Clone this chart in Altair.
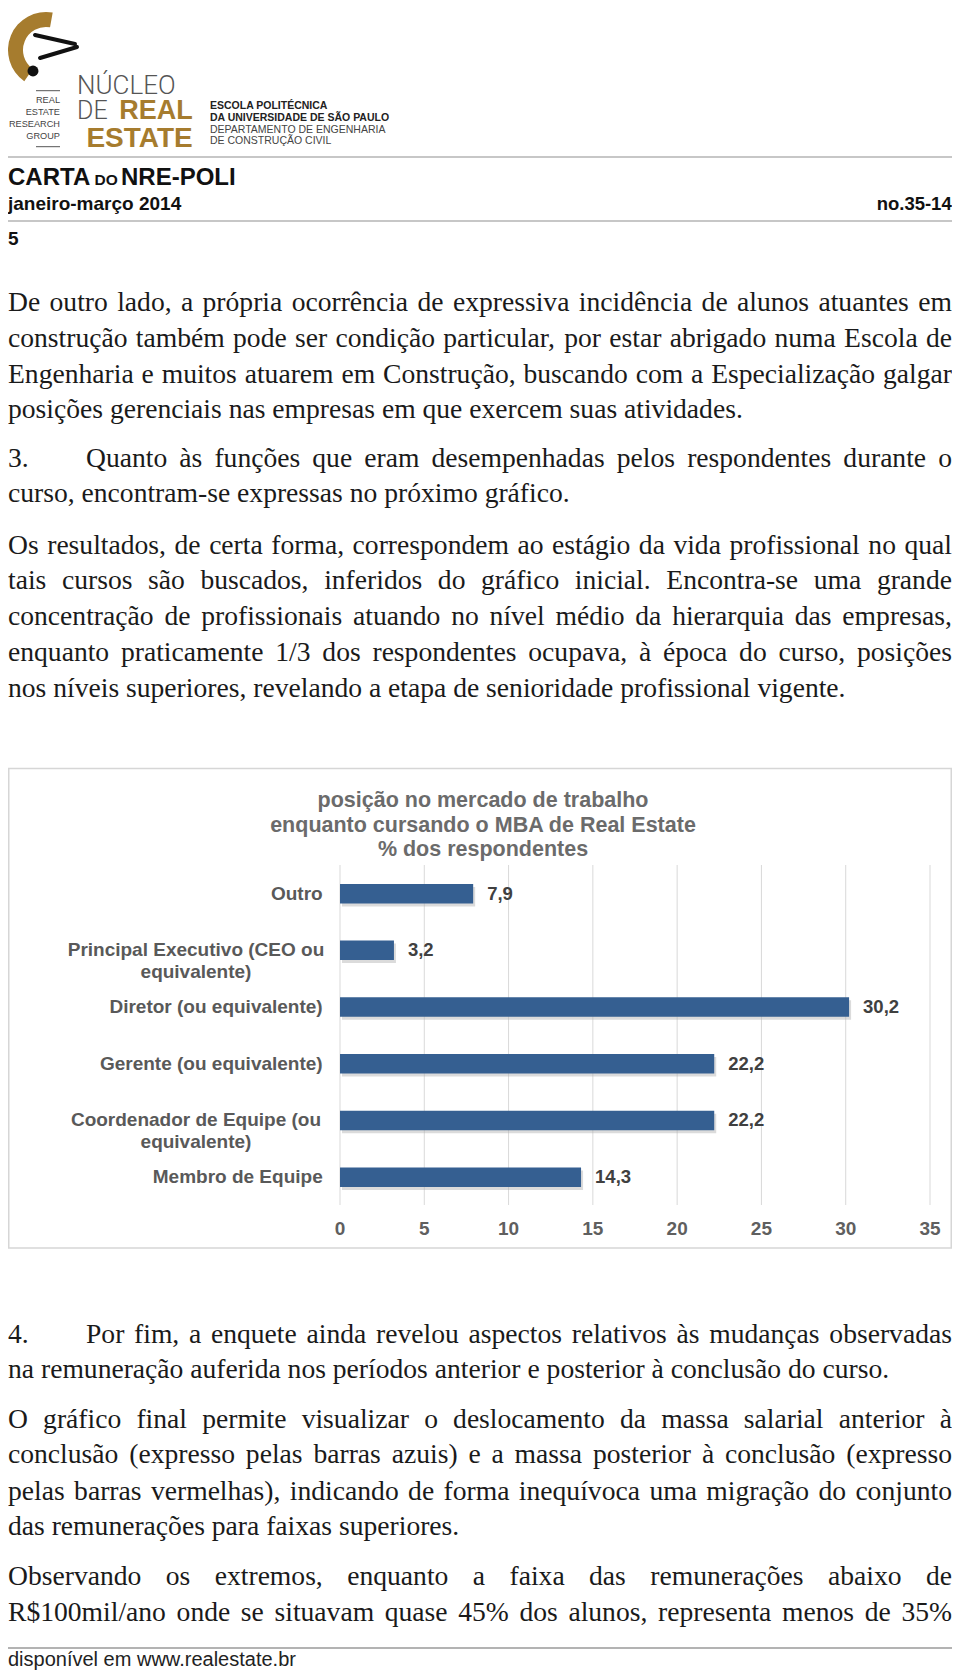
import unicodedata
import altair as alt
import pandas as pd

# ---------------- chart data ----------------
categories = [
    "Outro",
    "Principal Executivo (CEO ou equivalente)",
    "Diretor (ou equivalente)",
    "Gerente (ou equivalente)",
    "Coordenador de Equipe (ou equivalente)",
    "Membro de Equipe",
]
values = [7.9, 3.2, 30.2, 22.2, 22.2, 14.3]
x_ticks = [0, 5, 10, 15, 20, 25, 30, 35]
chart_title = [
    "posição no mercado de trabalho",
    "enquanto cursando o MBA de Real Estate",
    "% dos respondentes",
]

# ---------------- page text ----------------
header_title = ["CARTA", "DO", "NRE-POLI"]
header_date = "janeiro-março 2014"
header_issue = "no.35-14"
page_number = "5"
logo_group = ["REAL", "ESTATE", "RESEARCH", "GROUP"]
logo_words = ["NÚCLEO", "DE", "REAL", "ESTATE"]
school_lines = ["ESCOLA POLITÉCNICA", "DA UNIVERSIDADE DE SÃO PAULO",
                "DEPARTAMENTO DE ENGENHARIA", "DE CONSTRUÇÃO CIVIL"]
footer_text = "disponível em www.realestate.br"

para1 = [
    "De outro lado, a própria ocorrência de expressiva incidência de alunos atuantes em",
    "construção também pode ser condição particular, por estar abrigado numa Escola de",
    "Engenharia e muitos atuarem em Construção, buscando com a Especialização galgar",
    "posições gerenciais nas empresas em que exercem suas atividades.",
]
para2 = [
    "Quanto às funções que eram desempenhadas pelos respondentes durante o",
    "curso, encontram-se expressas no próximo gráfico.",
]
para3 = [
    "Os resultados, de certa forma, correspondem ao estágio da vida profissional no qual",
    "tais cursos são buscados, inferidos do gráfico inicial. Encontra-se uma grande",
    "concentração de profissionais atuando no nível médio da hierarquia das empresas,",
    "enquanto praticamente 1/3 dos respondentes ocupava, à época do curso, posições",
    "nos níveis superiores, revelando a etapa de senioridade profissional vigente.",
]
para4 = [
    "Por fim, a enquete ainda revelou aspectos relativos às mudanças observadas",
    "na remuneração auferida nos períodos anterior e posterior à conclusão do curso.",
]
para5 = [
    "O gráfico final permite visualizar o deslocamento da massa salarial anterior à",
    "conclusão (expresso pelas barras azuis) e a massa posterior à conclusão (expresso",
    "pelas barras vermelhas), indicando de forma inequívoca uma migração do conjunto",
    "das remunerações para faixas superiores.",
]
para6 = [
    "Observando os extremos, enquanto a faixa das remunerações abaixo de",
    "R$100mil/ano onde se situavam quase 45% dos alunos, representa menos de 35%",
]

# ---------------- layout (chart pixel coordinates = page - 8) ----------------
W, H = 944, 1662
BODY_X0, BODY_X1, INDENT_X = 0, 944, 78
paragraphs = [
    # (number, lines, baselines, last line justified)
    (None, para1, [302.8, 339.2, 374.5, 409.8], False),
    ("3.", para2, [459.0, 494.4], False),
    (None, para3, [545.7, 581.0, 617.4, 652.8, 689.1], False),
    ("4.", para4, [1334.5, 1369.8], False),
    (None, para5, [1420.1, 1455.4, 1491.8, 1527.1], False),
    (None, para6, [1577.4, 1612.7], True),
]

# Times / Liberation Serif advance widths (per 1000 em)
TW = {" ": 250, ",": 250, ".": 250, "(": 333, ")": 333, "-": 333, "/": 278,
      "$": 500, "%": 833, ":": 278, ";": 278}
TW.update(dict(zip("abcdefghijklmnopqrstuvwxyz",
                   [444, 500, 444, 500, 444, 333, 500, 500, 278, 278, 500, 278, 778,
                    500, 500, 500, 500, 333, 389, 278, 500, 500, 722, 500, 500, 444])))
TW.update(dict(zip("ABCDEFGHIJKLMNOPQRSTUVWXYZ",
                   [722, 667, 667, 722, 611, 556, 722, 722, 333, 389, 722, 611, 889,
                    722, 722, 556, 722, 667, 556, 611, 722, 722, 944, 722, 722, 611])))
for d in "0123456789":
    TW[d] = 500


def tw(s):
    tot = 0
    for ch in s:
        base = unicodedata.normalize("NFD", ch)[0]
        tot += TW.get(base, 500)
    return tot / 1000.0


# font size: largest size at which every justified line fits
fits = []
for num, lines, bls, lastj in paragraphs:
    for i, ln in enumerate(lines):
        just = (i < len(lines) - 1) or lastj
        if just:
            x0 = INDENT_X if (num and i == 0) else BODY_X0
            fits.append((BODY_X1 - x0) / tw(ln))
FS = min(28.0, 0.99 * min(fits))

rows = []
for num, lines, bls, lastj in paragraphs:
    if num:
        rows.append({"w": num, "px": BODY_X0, "py": bls[0]})
    for i, ln in enumerate(lines):
        just = (i < len(lines) - 1) or lastj
        x0 = INDENT_X if (num and i == 0) else BODY_X0
        if not just:
            rows.append({"w": ln, "px": x0, "py": bls[i]})
            continue
        words = ln.split(" ")
        ws = [tw(w) * FS for w in words]
        gap = (BODY_X1 - x0 - sum(ws)) / (len(words) - 1)
        x = x0
        for w, wd in zip(words, ws):
            rows.append({"w": w, "px": x, "py": bls[i]})
            x += wd + gap
words_df = pd.DataFrame(rows)

one = pd.DataFrame({"a": [0]})
SANS = "Liberation Sans"
GOLD = "#a67c2e"


def txt(t, x, y, size, color="#1a1a1a", weight="normal", align="left",
        font=SANS, baseline="alphabetic"):
    return alt.Chart(pd.DataFrame({"t": [t]})).mark_text(
        font=font, fontSize=size, fontWeight=weight, color=color, align=align,
        baseline=baseline,
    ).encode(text="t:N", x=alt.value(x), y=alt.value(y))


def hline(x1, x2, y, color, width):
    return alt.Chart(one).mark_rule(color=color, strokeWidth=width).encode(
        x=alt.value(x1), x2=alt.value(x2), y=alt.value(y), y2=alt.value(y))


def seg(x1, y1, x2, y2, color, width):
    return alt.Chart(one).mark_rule(color=color, strokeWidth=width, strokeCap="round").encode(
        x=alt.value(x1), x2=alt.value(x2), y=alt.value(y1), y2=alt.value(y2))


page_layers = []

# logo
page_layers.append(
    alt.Chart(one).mark_arc(innerRadius=23, outerRadius=38, color=GOLD).encode(
        theta=alt.value(3.75), theta2=alt.value(6.46), x=alt.value(38), y=alt.value(42))
)
page_layers.append(seg(27, 27, 67, 36, "#111111", 4))
page_layers.append(seg(32, 50, 69, 39, "#111111", 4))
page_layers.append(
    alt.Chart(one).mark_point(filled=True, color="#111111", size=120, opacity=1).encode(
        x=alt.value(25), y=alt.value(63))
)
page_layers.append(hline(28, 52, 82.7, "#555555", 1))
page_layers.append(hline(28, 52, 138.7, "#555555", 1))
for t, y in zip(logo_group, [95, 107, 118.7, 130.5]):
    page_layers.append(txt(t, 52, y, 9.2, color="#444444", align="right"))
page_layers.append(txt(logo_words[0], 69, 86, 26, color="#555555", weight=300, font="Roboto"))
page_layers.append(txt(logo_words[1], 69, 111, 25, color="#555555", weight=300, font="Roboto"))
page_layers.append(txt(logo_words[2], 184.7, 111, 27, color=GOLD, weight="bold", align="right"))
page_layers.append(txt(logo_words[3], 184.7, 138.7, 28, color=GOLD, weight="bold", align="right"))
for i, (t, y) in enumerate(zip(school_lines, [101.3, 112.7, 124.5, 136])):
    page_layers.append(txt(t, 202, y, 10.5, color="#222222" if i < 2 else "#444444",
                           weight="bold" if i < 2 else "normal"))

# header band
page_layers.append(hline(0, 944, 149, "#b5b5b5", 1.5))
page_layers.append(hline(0, 944, 213, "#b5b5b5", 1.5))
page_layers.append(txt(header_title[0], 0, 177, 24, color="#111111", weight="bold"))
page_layers.append(txt(header_title[1], 86.5, 177, 15.5, color="#111111", weight="bold"))
page_layers.append(txt(header_title[2], 113, 177, 24, color="#111111", weight="bold"))
page_layers.append(txt(header_date, 0, 202, 19, color="#111111", weight="bold"))
page_layers.append(txt(header_issue, 943.7, 202, 18.5, color="#111111", weight="bold", align="right"))
page_layers.append(txt(page_number, 0, 237, 19, color="#111111", weight="bold"))

# body text
page_layers.append(
    alt.Chart(words_df).mark_text(
        font="Liberation Serif", fontSize=FS, color="#1a1a1a", align="left",
        baseline="alphabetic",
    ).encode(x=alt.X("px:Q", scale=None), y=alt.Y("py:Q", scale=None), text="w:N")
)

# chart frame + title
page_layers.append(
    alt.Chart(one).mark_rect(fill="white", stroke="#d6d6d6", strokeWidth=1.5).encode(
        x=alt.value(0.75), x2=alt.value(943.25), y=alt.value(760.5), y2=alt.value(1240))
)
for t, y in zip(chart_title, [798.7, 823.7, 848.3]):
    page_layers.append(txt(t, 475, y, 21.5, color="#6b6b6b", weight="bold", align="center"))

# footer
page_layers.append(hline(0, 944, 1640, "#9a9a9a", 1.5))
page_layers.append(txt(footer_text, 0, 1657.5, 20, color="#222222"))

# ---------------- bar chart (own scales) ----------------
wrap = {
    "Principal Executivo (CEO ou equivalente)": "Principal Executivo (CEO ou\nequivalente)",
    "Coordenador de Equipe (ou equivalente)": "Coordenador de Equipe (ou\nequivalente)",
}
bars_df = pd.DataFrame({
    "cat": categories,
    "value": values,
    "label": [f"{v:.1f}".replace(".", ",") for v in values],
    "disp": [wrap.get(c, c) for c in categories],
    "two": [c in wrap for c in categories],
})
ticks_df = pd.DataFrame({"v": x_ticks, "vs": [str(t) for t in x_ticks]})

xs = alt.Scale(domain=[0, 35], range=[332, 922], nice=False, zero=True)
ys = alt.Scale(domain=categories, range=[857.3, 1197.5], paddingInner=0.656, paddingOuter=0.328)
X = alt.X("value:Q", scale=xs, axis=None)
Y = alt.Y("cat:N", scale=ys, axis=None)

grid = alt.Chart(ticks_df).mark_rule(color="#d9d9d9", strokeWidth=1).encode(
    x=alt.X("v:Q", scale=xs, axis=None), y=alt.value(857), y2=alt.value(1197))
shadow = alt.Chart(bars_df).mark_bar(color="#b0b0b0", opacity=0.45, xOffset=2, yOffset=3).encode(x=X, y=Y)
bars = alt.Chart(bars_df).mark_bar(color="#355f91").encode(x=X, y=Y)
vals = alt.Chart(bars_df).mark_text(
    font=SANS, fontSize=18.5, fontWeight="bold", color="#404040", align="left",
    baseline="middle", dx=14,
).encode(x=X, y=Y, text="label:N")
tick_labels = alt.Chart(ticks_df).mark_text(
    font=SANS, fontSize=19, fontWeight="bold", color="#5f5f5f", align="center",
    baseline="middle",
).encode(x=alt.X("v:Q", scale=xs, axis=None), y=alt.value(1221), text="vs:N")
cat1 = alt.Chart(bars_df).transform_filter("!datum.two").mark_text(
    font=SANS, fontSize=19, fontWeight="bold", color="#595959", align="right",
    baseline="middle",
).encode(x=alt.value(314.7), y=Y, text="disp:N")
cat2 = alt.Chart(bars_df).transform_filter("datum.two").mark_text(
    font=SANS, fontSize=19, fontWeight="bold", color="#595959", align="center",
    baseline="middle", lineBreak="\n", lineHeight=21.7,
).encode(x=alt.value(188), y=Y, text="disp:N")

bar_chart = alt.layer(grid, shadow, bars, vals, tick_labels, cat1, cat2)

chart = alt.layer(*page_layers, bar_chart).resolve_scale(
    x="independent", y="independent"
).properties(
    width=W, height=H, padding=0, autosize=alt.AutoSizeParams(type="none"),
    background="white",
).configure_view(stroke=None)

chart.save("out.html", embed_options={"renderer": "svg", "actions": False})
